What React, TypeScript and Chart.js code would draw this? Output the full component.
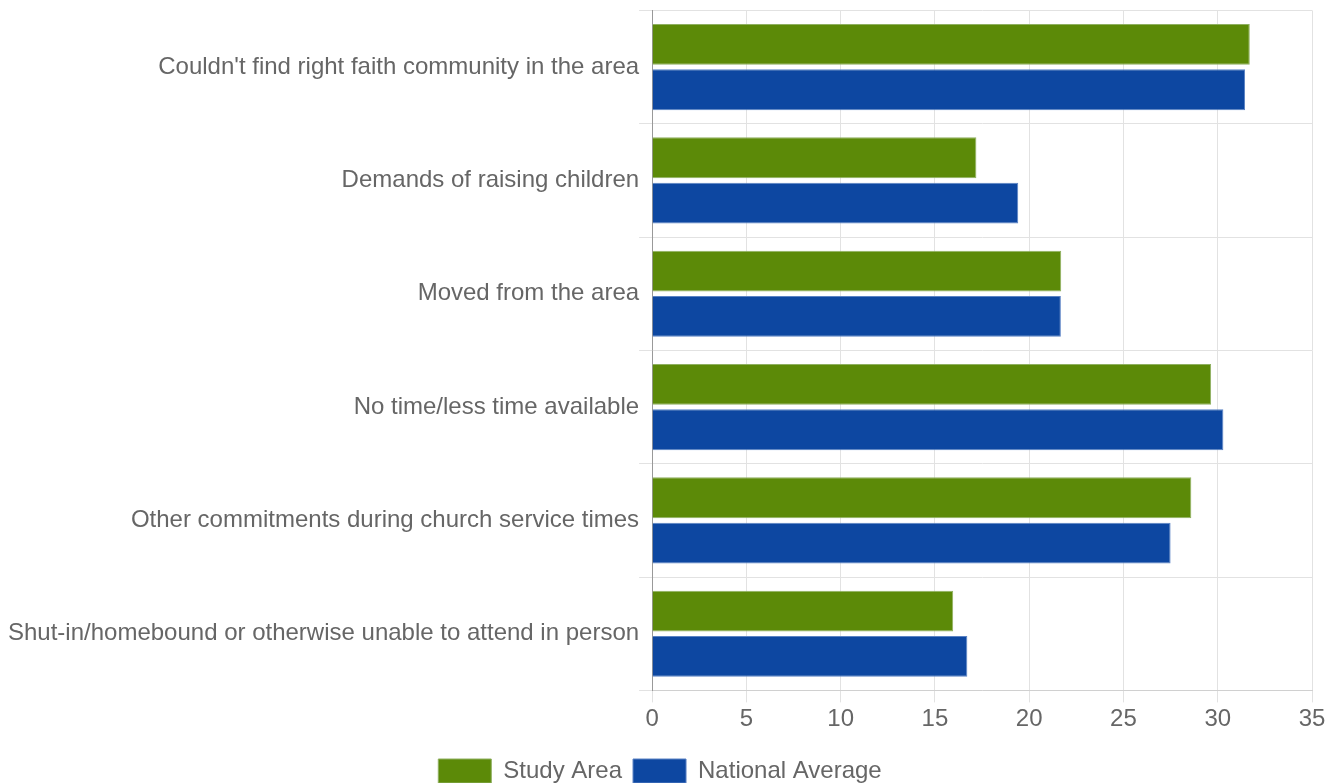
import React, { useEffect, useRef } from "react";
import { Chart, registerables } from "chart.js";
Chart.register(...registerables);

const categories = [
  "Couldn't find right faith community in the area",
  "Demands of raising children",
  "Moved from the area",
  "No time/less time available",
  "Other commitments during church service times",
  "Shut-in/homebound or otherwise unable to attend in person",
];
const studyArea = [31.7, 17.2, 21.7, 29.65, 28.6, 15.97];
const nationalAverage = [31.45, 19.42, 21.68, 30.3, 27.5, 16.72];
const xTicks = [0, 5, 10, 15, 20, 25, 30, 35];

const FONT = "'Liberation Sans', Arial, sans-serif";

export default function App() {
  const ref = useRef<HTMLCanvasElement>(null);
  useEffect(() => {
    const chart = new Chart(ref.current!, {
      type: "bar",
      data: {
        labels: categories,
        datasets: [
          {
            label: "Study Area",
            data: studyArea,
            backgroundColor: "#5c8a08",
            borderColor: "#8fb060",
            borderWidth: 1,
          },
          {
            label: "National Average",
            data: nationalAverage,
            backgroundColor: "#0d47a1",
            borderColor: "#5a82c4",
            borderWidth: 1,
          },
        ],
      },
      options: {
        indexAxis: "y",
        animation: false,
        responsive: true,
        maintainAspectRatio: false,
        layout: { padding: { top: 0, right: 20, left: 8, bottom: 0 } },
        plugins: {
          legend: {
            position: "bottom",
            labels: {
              boxWidth: 53,
              boxHeight: 24,
              color: "#666",
              font: { size: 24, family: FONT },
              padding: 11,
            },
          },
          tooltip: { enabled: false },
        },
        scales: {
          x: {
            min: 0,
            max: 35,
            afterBuildTicks: (axis: any) => {
              axis.ticks = xTicks.map((v) => ({ value: v }));
            },
            grid: { color: "#e2e2e2", tickLength: 12 },
            border: { color: "#d0d0d0" },
            ticks: {
              color: "#666",
              padding: 3,
              font: { size: 24, family: FONT },
            },
            title: {
              display: true,
              text: "",
              font: { size: 9, family: FONT },
              padding: 0,
            },
          },
          y: {
            grid: { color: "#e2e2e2", tickLength: 13 },
            border: { color: "#999" },
            ticks: {
              color: "#666",
              padding: 0,
              font: { size: 24, family: FONT },
            },
          },
        },
      },
    });
    return () => chart.destroy();
  }, []);
  return (
    <div style={{ position: "absolute", left: 0, top: -4, width: 1332, height: 797 }}>
      <canvas ref={ref} />
    </div>
  );
}
